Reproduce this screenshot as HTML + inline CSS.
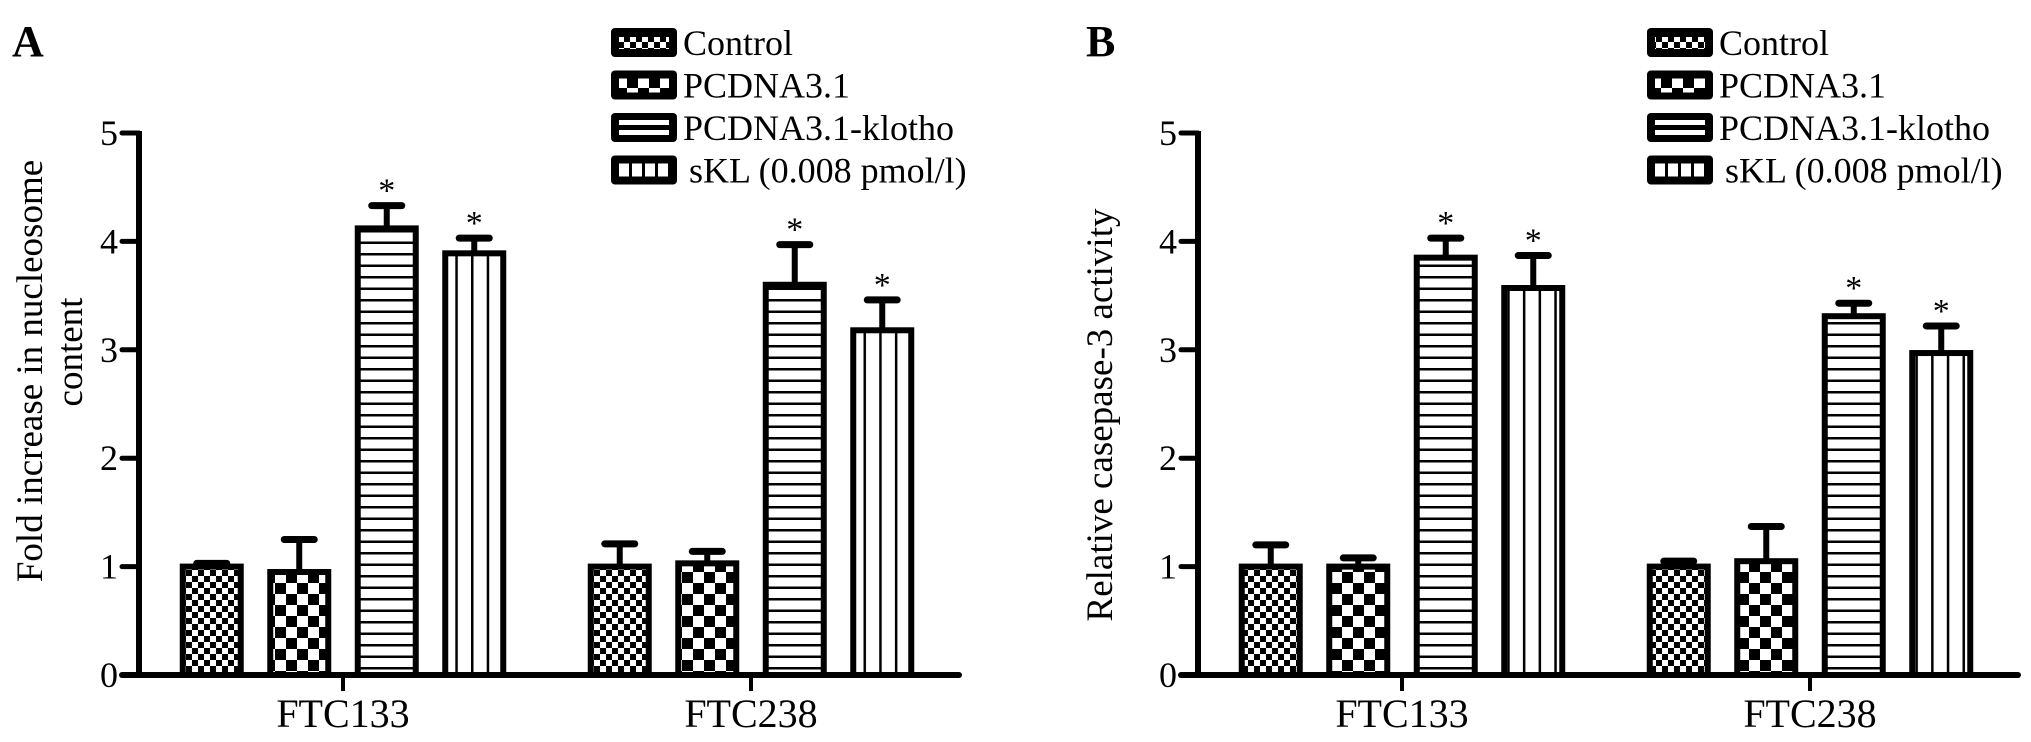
<!DOCTYPE html>
<html><head><meta charset="utf-8"><style>
html,body{margin:0;padding:0;background:#fff;}
svg{display:block;font-family:"Liberation Serif",serif;}
</style></head><body>
<svg id="chart" width="2031" height="742" viewBox="0 0 2031 742" xmlns="http://www.w3.org/2000/svg">
<defs>
<pattern id="p0" patternUnits="userSpaceOnUse" width="12" height="12"><rect width="12" height="12" fill="#fff"/><rect width="6" height="6" fill="#000"/><rect x="6" y="6" width="6" height="6" fill="#000"/></pattern>
<pattern id="p1" patternUnits="userSpaceOnUse" width="22" height="22"><rect width="22" height="22" fill="#fff"/><rect width="11" height="11" fill="#000"/><rect x="11" y="11" width="11" height="11" fill="#000"/></pattern>
<pattern id="p2" patternUnits="userSpaceOnUse" width="12" height="11.5"><rect width="12" height="11.5" fill="#fff"/><rect y="0" width="12" height="2.5" fill="#000"/></pattern>
<pattern id="p3" patternUnits="userSpaceOnUse" width="15.7" height="12"><rect width="15.7" height="12" fill="#fff"/><rect x="0" width="2.5" height="12" fill="#000"/></pattern>
</defs>
</svg>
<script>
const categories = ["FTC133", "FTC238"];
const seriesNames = ["Control", "PCDNA3.1", "PCDNA3.1-klotho", "sKL (0.008 pmol/l)"];
const yTicks = [0, 1, 2, 3, 4, 5];
// Panel A: fold increase in nucleosome content
const aValues = [[1.0, 0.95, 4.12, 3.89], [1.0, 1.03, 3.60, 3.18]];
const aErrors = [[0.03, 0.30, 0.21, 0.14], [0.21, 0.11, 0.37, 0.28]];
const aStars = [[false, false, true, true], [false, false, true, true]];
// Panel B: relative caspase-3 activity
const bValues = [[1.0, 1.0, 3.85, 3.57], [1.0, 1.05, 3.31, 2.97]];
const bErrors = [[0.20, 0.08, 0.18, 0.30], [0.05, 0.32, 0.12, 0.25]];
const bStars = [[false, false, true, true], [false, false, true, true]];

const NS = "http://www.w3.org/2000/svg";
const svg = document.getElementById("chart");
function mk(tag, attrs, parent) {
  const e = document.createElementNS(NS, tag);
  for (const k in attrs) e.setAttribute(k, attrs[k]);
  (parent || svg).appendChild(e);
  return e;
}
const Y0 = 675, UNIT = 108.4;
function yScale(v) { return Y0 - v * UNIT; }

function panel(cfg) {
  const g = mk("g", {});
  
  
  const ax = cfg.axisX;
  function xCat(c) { return ax + 204 + c * 408; }
  function xBar(c, i) { return xCat(c) + (i - 1.5) * 87.5; }

  const L = mk("text", {x: cfg.letterX, y: 56, "font-size": 44, "font-weight": "bold"}, g);
  L.textContent = cfg.letter;
  
  

  cfg.title.forEach((t, k) => {
    const yt = mk("text", {transform: `translate(${cfg.titleX + k * 40},${cfg.titleY[k]}) rotate(-90)`, "text-anchor": "middle", "font-size": 37}, g);
    yt.textContent = t;
    
    
  });

  categories.forEach((cat, c) => {
    cfg.values[c].forEach((v, i) => {
      const cx = xBar(c, i), top = yScale(v), errTop = yScale(v + cfg.errors[c][i]);
      const eb = mk("line", {x1: cx, x2: cx, y1: top, y2: errTop, stroke: "#000", "stroke-width": 6}, g);
      
      
      const cap = mk("line", {x1: cx - 15, x2: cx + 15, y1: errTop, y2: errTop, stroke: "#000", "stroke-width": 7, "stroke-linecap": "round"}, g);
      
      
      const r = mk("rect", {x: cx - 29, y: top, width: 58, height: Y0 - top, fill: `url(#p${i})`, stroke: "#000", "stroke-width": 6}, g);
      
      
      if (cfg.stars[c][i]) {
        const s = mk("text", {x: cx, y: errTop - 4, "text-anchor": "middle", "font-size": 34}, g);
        s.textContent = "*";
        
        
      }
    });
    const tk = mk("line", {x1: xCat(c), x2: xCat(c), y1: Y0, y2: Y0 + 16, stroke: "#000", "stroke-width": 4}, g);
    
    
    const tl = mk("text", {x: xCat(c), y: 727, "text-anchor": "middle", "font-size": 40}, g);
    tl.textContent = cat;
    
    
  });

  const ya = mk("line", {x1: ax, x2: ax, y1: yScale(5) - 2, y2: Y0, stroke: "#000", "stroke-width": 6}, g);
  
  
  const xa = mk("line", {x1: ax - 17, x2: ax + 820, y1: Y0, y2: Y0, stroke: "#000", "stroke-width": 6, "stroke-linecap": "round"}, g);
  
  
  yTicks.forEach(t => {
    const tm = mk("line", {x1: ax - 17, x2: ax, y1: yScale(t), y2: yScale(t), stroke: "#000", "stroke-width": 5, "stroke-linecap": "round"}, g);
    
    
    const tl = mk("text", {x: ax - 21, y: yScale(t) + 12, "text-anchor": "end", "font-size": 36}, g);
    tl.textContent = t;
    
    
  });

  seriesNames.forEach((n, i) => {
    const ly = 28 + i * 42.5;
    const lg = mk("g", {}, g);
    
    
    mk("rect", {x: cfg.legX, y: ly, width: 66, height: 29, rx: 4, fill: "#000"}, lg);
    if (i === 0) mk("rect", {x: cfg.legX + 8, y: ly + 9, width: 50, height: 12, fill: "url(#p0)"}, lg);
    if (i === 1) mk("rect", {x: cfg.legX + 8, y: ly + 8, width: 50, height: 14, fill: "url(#p1)"}, lg);
    if (i === 2) { mk("rect", {x: cfg.legX + 8, y: ly + 7, width: 50, height: 5, fill: "#fff"}, lg); mk("rect", {x: cfg.legX + 8, y: ly + 17, width: 50, height: 5, fill: "#fff"}, lg); }
    if (i === 3) { for (let k = 0; k < 4; k++) mk("rect", {x: cfg.legX + 8 + k * 13, y: ly + 8, width: 10, height: 13, fill: "#fff"}, lg); }
    const tx = mk("text", {x: cfg.legX + 72 + (i === 3 ? 6 : 0), y: ly + 27, "font-size": 36}, lg);
    tx.textContent = n;
  });
}

panel({name: "panel-a", letter: "A", letterX: 12, axisX: 139, legX: 611,
  title: ["Fold increase in nucleosome", "content"], titleX: 42, titleY: [371, 352],
  values: aValues, errors: aErrors, stars: aStars});
panel({name: "panel-b", letter: "B", letterX: 1086, axisX: 1198, legX: 1647,
  title: ["Relative casepase-3 activity"], titleX: 1112, titleY: [415],
  values: bValues, errors: bErrors, stars: bStars});
</script>
</body></html>
